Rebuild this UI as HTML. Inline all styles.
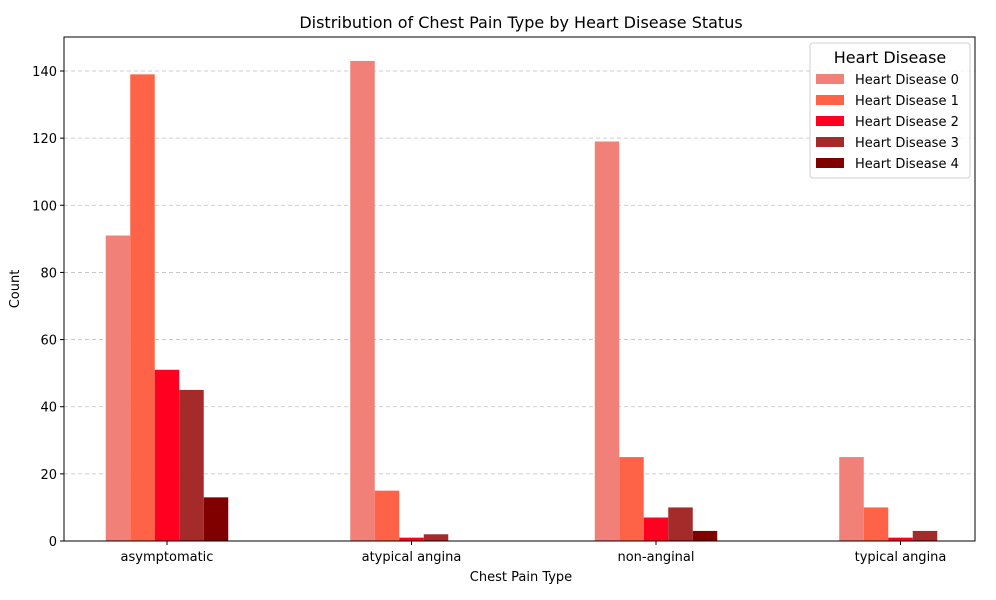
<!DOCTYPE html>
<html><head><meta charset="utf-8"><style>
body{margin:0;background:#fff;font-family:"DejaVu Sans","Liberation Sans",sans-serif}
svg text{font-family:"DejaVu Sans","Liberation Sans",sans-serif}
</style></head><body>
<svg id="chart" width="996" height="596" xmlns="http://www.w3.org/2000/svg">
<rect width="996" height="596" fill="#fff"/>
<g id="grid"></g><g id="bars"></g><g id="axes"></g><g id="legend"></g>
</svg>
<script>
const categories=["asymptomatic","atypical angina","non-anginal","typical angina"];
const seriesNames=["Heart Disease 0","Heart Disease 1","Heart Disease 2","Heart Disease 3","Heart Disease 4"];
const hd0=[91,143,119,25];
const hd1=[139,15,25,10];
const hd2=[51,1,7,1];
const hd3=[45,2,10,3];
const hd4=[13,0,3,0];
const yTicks=[0,20,40,60,80,100,120,140];
const series=[hd0,hd1,hd2,hd3,hd4];
const colors=["#f08078","#ff6347","#ff0020","#a52a2a","#800000"];
const NS="http://www.w3.org/2000/svg";
const L=64,R=975,T=37,B=541;
const y=v=>B-v*(470/140);
const xc=i=>167+244.5*i;
const bw=24.5;
function mk(tag,attrs,parent,text){const e=document.createElementNS(NS,tag);for(const k in attrs)e.setAttribute(k,attrs[k]);if(text!==undefined)e.textContent=text;parent.appendChild(e);return e;}
const grid=document.getElementById('grid'),bars=document.getElementById('bars'),axes=document.getElementById('axes'),leg=document.getElementById('legend');
yTicks.forEach(t=>{
 if(t>0){const g=mk('line',{x1:L,x2:R,y1:y(t),y2:y(t),stroke:'#c0c0c0','stroke-dasharray':'4,3','stroke-width':0.8},grid);
 }
 mk('line',{x1:L-4,x2:L,y1:y(t),y2:y(t),stroke:'#000'},axes);
 const lb=mk('text',{x:L-7,y:y(t)+5,'text-anchor':'end','font-size':13},axes,String(t));
 
});
series.forEach((s,si)=>{s.forEach((v,ci)=>{
 const x=xc(ci)-2.5*bw+si*bw;
 const r=mk('rect',{x:x,y:y(v),width:bw,height:B-y(v),fill:colors[si]},bars);
 
});});
categories.forEach((c,ci)=>{
 mk('line',{x1:xc(ci),x2:xc(ci),y1:B,y2:B+4,stroke:'#000'},axes);
 const t=mk('text',{x:xc(ci),y:B+20,'text-anchor':'middle','font-size':13},axes,c);
 
});
const fr=mk('rect',{x:L,y:T,width:R-L,height:B-T,fill:'none',stroke:'#000','stroke-width':1},axes);

const ti=mk('text',{x:521,y:28,'text-anchor':'middle','font-size':16},axes,'Distribution of Chest Pain Type by Heart Disease Status');

const xt=mk('text',{x:521,y:581,'text-anchor':'middle','font-size':13},axes,'Chest Pain Type');

const yt=mk('text',{x:19,y:289,'text-anchor':'middle','font-size':13,transform:'rotate(-90 19 289)'},axes,'Count');

const lb=mk('rect',{x:810,y:43,width:160,height:135,fill:'#fff','fill-opacity':0.8,stroke:'#d0d0d0',rx:3},leg);

const lt=mk('text',{x:890,y:63,'text-anchor':'middle','font-size':16},leg,'Heart Disease');

seriesNames.forEach((n,i)=>{
 const yy=74+i*21;
 const g=mk('g',{},leg);
 
 mk('rect',{x:816,y:yy,width:28,height:10,fill:colors[i]},g);
 mk('text',{x:855,y:yy+10,'font-size':13},g,n);
});
</script>
</body></html>
